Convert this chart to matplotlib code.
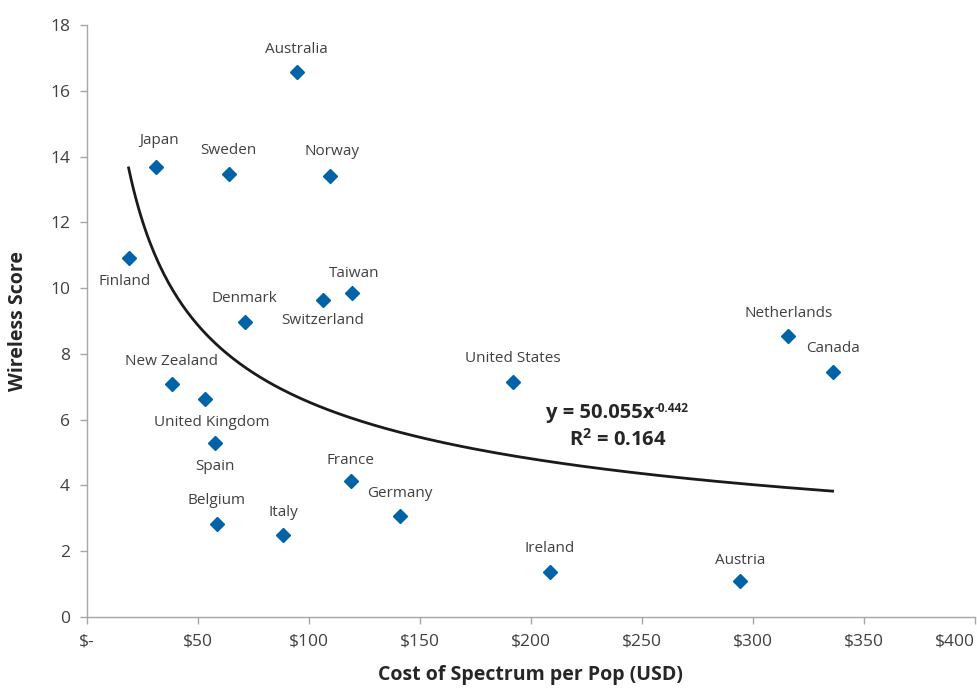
import numpy as np
import matplotlib
matplotlib.use("Agg")
import matplotlib.pyplot as plt
from matplotlib.ticker import FixedLocator

plt.rcParams["font.family"] = ["Open Sans", "DejaVu Sans"]
plt.rcParams["mathtext.fontset"] = "custom"
plt.rcParams["mathtext.rm"] = "Open Sans"
plt.rcParams["mathtext.bf"] = "Open Sans:bold"

# data
countries = ["Australia", "Japan", "Sweden", "Norway", "Finland", "Taiwan",
             "Switzerland", "Denmark", "Netherlands", "Canada", "United States",
             "New Zealand", "United Kingdom", "Spain", "France", "Germany",
             "Belgium", "Italy", "Ireland", "Austria"]
cost = [94.6, 31.2, 64.0, 109.6, 18.9, 119.6, 106.3, 71.2, 316.0, 336.0, 191.9,
        38.3, 53.1, 57.9, 119.0, 141.0, 58.5, 88.4, 208.7, 294.4]
score = [16.57, 13.69, 13.47, 13.40, 10.92, 9.84, 9.64, 8.98, 8.54, 7.46, 7.15,
         7.08, 6.62, 5.28, 4.13, 3.07, 2.84, 2.49, 1.37, 1.10]

# power trendline shown on the chart
fit_a = 50.055
fit_b = -0.442
fit_r2 = 0.164

x_ticks = [0, 50, 100, 150, 200, 250, 300, 350, 400]
x_tick_labels = ["$-", "$50", "$100", "$150", "$200", "$250", "$300", "$350", "$400"]
y_ticks = [0, 2, 4, 6, 8, 10, 12, 14, 16, 18]

# label offsets in pixels (dx, dy) relative to the marker
label_offsets = {
    "Finland": (-4, -24),
    "Switzerland": (0, -21),
    "United Kingdom": (7, -23),
    "Spain": (0, -23),
    "Japan": (3, 26),
    "Taiwan": (2, 20),
    "Norway": (2, 25),
    "Austria": (0, 20),
    "France": (0, 21),
}

fig = plt.figure(figsize=(9.77, 6.94), dpi=100)
ax = fig.add_axes([0.0887, 0.111, 0.9089, 0.853])

ax.plot(cost, score, linestyle="none", marker="D", markersize=7.5,
        color="#0063A8", zorder=3)

xs = np.linspace(min(cost), max(cost), 300)
ax.plot(xs, fit_a * xs ** fit_b, color="#1a1a1a", linewidth=2.0, zorder=2)

px = 72.0 / fig.dpi
for name, x, y in zip(countries, cost, score):
    dx, dy = label_offsets.get(name, (0, 23))
    ax.annotate(name, (x, y), xytext=(dx * px, dy * px), textcoords="offset points",
                ha="center", va="center", fontsize=11, color="#404040")

# equation, with a plain hyphen in the exponent like the original
eq_color = "#262626"
eq = fig.text(600 / 977, 1 - 413 / 694, "y = 50.055x", ha="center", va="center",
              fontsize=14.5, fontweight="bold", color=eq_color)
ax.annotate(f"{fit_b:.3f}", xy=(1, 1), xycoords=eq, xytext=(0.5, 1.0),
            textcoords="offset points", ha="left", va="top",
            fontsize=8.5, fontweight="bold", color=eq_color)
fig.text(618 / 977, 1 - 440 / 694, r"R$^{\mathbf{2}}$ = " + f"{fit_r2:.3f}",
         ha="center", va="center", fontsize=14.5, fontweight="bold", color=eq_color)

ax.set_xlim(0, 400)
ax.set_ylim(0, 18)
ax.xaxis.set_major_locator(FixedLocator(x_ticks))
ax.set_xticklabels(x_tick_labels)
ax.yaxis.set_major_locator(FixedLocator(y_ticks))
ax.get_xticklabels()[-1].set_horizontalalignment("right")

for s in ["top", "right"]:
    ax.spines[s].set_visible(False)
for s in ["left", "bottom"]:
    ax.spines[s].set_color("#A6A6A6")
    ax.spines[s].set_linewidth(1.0)
ax.tick_params(axis="both", colors="#A6A6A6", labelcolor="#404040",
               labelsize=12.5, length=5, width=1.0, direction="out")
ax.tick_params(axis="x", pad=7)
ax.tick_params(axis="y", pad=7)

ax.set_xlabel("Cost of Spectrum per Pop (USD)", fontsize=14, fontweight="bold",
              color="#262626", labelpad=11)
ax.set_ylabel("Wireless Score", fontsize=14, fontweight="bold",
              color="#262626", labelpad=16)

fig.savefig("out.png", dpi=100)
